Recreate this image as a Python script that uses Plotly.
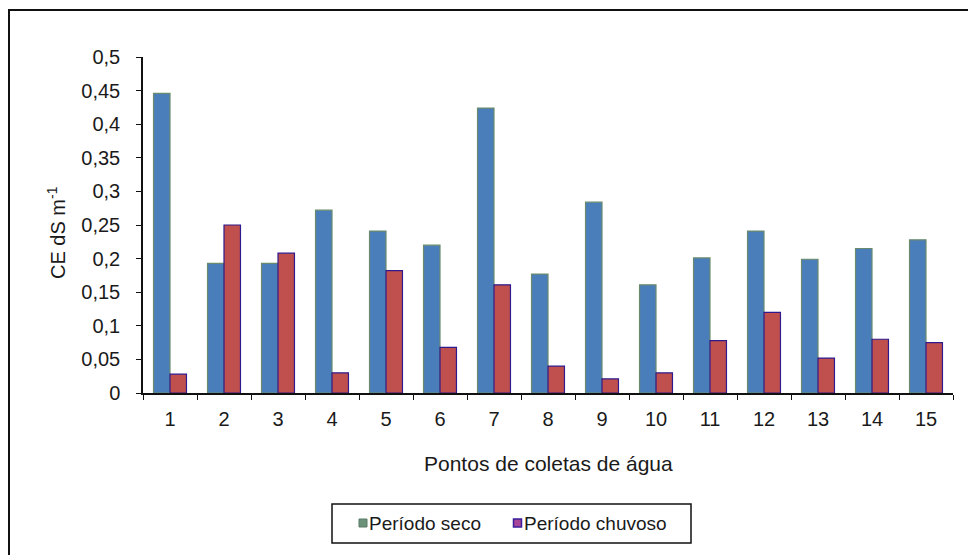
import plotly.graph_objects as go

pontos = [str(i) for i in range(1, 16)]
periodo_seco = [0.446, 0.193, 0.193, 0.272, 0.241, 0.220, 0.424, 0.177, 0.284, 0.161, 0.201, 0.241, 0.199, 0.215, 0.228]
periodo_chuvoso = [0.028, 0.250, 0.208, 0.030, 0.182, 0.068, 0.161, 0.040, 0.021, 0.030, 0.078, 0.120, 0.052, 0.080, 0.075]
y_tick_vals = [0, 0.05, 0.1, 0.15, 0.2, 0.25, 0.3, 0.35, 0.4, 0.45, 0.5]
y_tick_text = ["0", "0,05", "0,1", "0,15", "0,2", "0,25", "0,3", "0,35", "0,4", "0,45", "0,5"]
legend_names = ["Período seco", "Período chuvoso"]

W, H = 968, 555
L, R, T, B = 143, 953, 57, 393  # plot area in px


def px(xp):
    return (xp - L) / (R - L)


def py(yp):
    return (B - yp) / (B - T)


FONT = "Liberation Sans, Arial, sans-serif"
TXT = "#1a1a1a"

fig = go.Figure()
fig.add_trace(go.Bar(
    x=pontos, y=periodo_seco, name=legend_names[0],
    marker=dict(color="#4A7EBB", line=dict(color="#6A8A6E", width=1.2)),
    showlegend=False,
))
fig.add_trace(go.Bar(
    x=pontos, y=periodo_chuvoso, name=legend_names[1],
    marker=dict(color="#C0504D", line=dict(color="#2E1A8C", width=1.2)),
    showlegend=False,
))

# legend box drawn by hand (symbol sits right next to its text, as in the reference)
legend_shapes = [
    dict(type="rect", xref="paper", yref="paper",
         x0=px(332), x1=px(691), y0=py(543), y1=py(504),
         line=dict(color="#111111", width=1.5), fillcolor="white"),
    dict(type="rect", xref="paper", yref="paper",
         x0=px(359), x1=px(367), y0=py(527), y1=py(519),
         line=dict(color="#5A7A66", width=1), fillcolor="#6C927A"),
    dict(type="rect", xref="paper", yref="paper",
         x0=px(513.5), x1=px(521.5), y0=py(527), y1=py(519),
         line=dict(color="#3A1F9A", width=1.5), fillcolor="#A8449A"),
]
legend_annots = [
    dict(text=legend_names[0], xref="paper", yref="paper", x=px(367), y=py(523),
         xanchor="left", yanchor="middle", showarrow=False,
         font=dict(family=FONT, size=19, color=TXT)),
    dict(text=legend_names[1], xref="paper", yref="paper", x=px(522), y=py(523),
         xanchor="left", yanchor="middle", showarrow=False,
         font=dict(family=FONT, size=19, color=TXT)),
]

fig.update_layout(
    width=W, height=H, autosize=False,
    margin=dict(l=L, r=W - R, t=T, b=H - B, pad=0),
    paper_bgcolor="white", plot_bgcolor="white",
    font=dict(family=FONT, size=19, color=TXT),
    barmode="group", bargap=0.39, bargroupgap=0.0,
    showlegend=False,
    xaxis=dict(
        type="category", tickson="boundaries", ticks="outside", ticklen=5,
        tickcolor="#111111", showline=True, linecolor="#111111", linewidth=1.5,
        showgrid=False, zeroline=False, ticklabelstandoff=7,
        tickfont=dict(family=FONT, size=20, color=TXT),
    ),
    yaxis=dict(
        range=[0, 0.5], tickvals=y_tick_vals, ticktext=y_tick_text,
        ticks="outside", ticklen=5, tickcolor="#111111",
        showline=True, linecolor="#111111", linewidth=1.5,
        showgrid=False, zeroline=False, ticklabelstandoff=12,
        tickfont=dict(family=FONT, size=20, color=TXT),
    ),
    annotations=[
        dict(text="Pontos de coletas de água", xref="paper", yref="paper",
             x=px(548), y=py(463), xanchor="center", yanchor="middle", showarrow=False,
             font=dict(family=FONT, size=21, color=TXT)),
        dict(text="CE dS m<sup>-1</sup>", xref="paper", yref="paper",
             x=px(56), y=py(233), xanchor="center", yanchor="middle", showarrow=False,
             textangle=-90, font=dict(family=FONT, size=20, color=TXT)),
    ] + legend_annots,
    shapes=[
        dict(type="rect", xref="paper", yref="paper",
             x0=px(9), x1=px(1000), y0=py(600), y1=py(10),
             line=dict(color="#111111", width=2), fillcolor="rgba(0,0,0,0)", layer="below"),
    ] + legend_shapes,
)

fig.write_html("out.html")
